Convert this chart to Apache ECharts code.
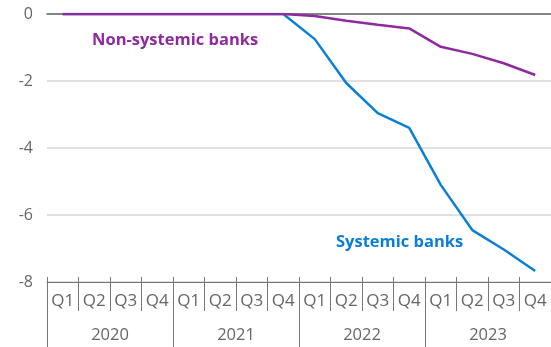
<!DOCTYPE html>
<html>
<head>
<meta charset="utf-8">
<script src="https://cdn.jsdelivr.net/npm/echarts@6/dist/echarts.min.js"></script>
<style>
  html, body { margin: 0; padding: 0; background: #fff; }
  #chart { width: 551px; height: 347px; }
</style>
</head>
<body>
<div id="chart"></div>
<script>
// Data
const quarters = ['Q1', 'Q2', 'Q3', 'Q4', 'Q1', 'Q2', 'Q3', 'Q4',
                  'Q1', 'Q2', 'Q3', 'Q4', 'Q1', 'Q2', 'Q3', 'Q4'];
const years = ['2020', '2021', '2022', '2023'];
const nonSystemic = [0, 0, 0, 0, 0, 0, 0, 0,
                     -0.06, -0.2, -0.32, -0.43, -0.98, -1.19, -1.47, -1.82];
const systemic = [0, 0, 0, 0, 0, 0, 0, 0,
                  -0.75, -2.06, -2.96, -3.4, -5.1, -6.45, -7.03, -7.67];
const yTicks = [0, -2, -4, -6, -8];

const purple = '#8e2a9e';
const blue = '#0a7fd6';
const textGray = '#666';
const axisGray = '#777';
const font = 'Open Sans';

const myChart = echarts.init(document.getElementById('chart'));

const option = {
    backgroundColor: '#fff',
    animation: false,
    grid: { left: 47, right: 0, top: 14, bottom: 65 },
    xAxis: [
        {
            // quarter labels
            type: 'category',
            data: quarters,
            position: 'bottom',
            boundaryGap: true,
            axisLine: { show: true, onZero: false, lineStyle: { color: axisGray, width: 1 } },
            axisTick: { show: true, length: 29, interval: 0, lineStyle: { color: axisGray } },
            axisLabel: { color: textGray, fontSize: 17, fontFamily: font, margin: 11, interval: 0 },
            splitLine: { show: false }
        },
        {
            // year labels
            type: 'category',
            data: years,
            position: 'bottom',
            boundaryGap: true,
            axisLine: { show: false, onZero: false },
            axisTick: { show: true, length: 70, interval: 0, lineStyle: { color: axisGray } },
            axisLabel: { color: textGray, fontSize: 16.5, fontFamily: font, margin: 45 },
            splitLine: { show: false }
        },
        {
            // short ticks poking above the axis line
            type: 'category',
            data: quarters,
            position: 'bottom',
            axisLine: { show: false, onZero: false },
            axisTick: { show: true, inside: true, length: 5, interval: 0, lineStyle: { color: axisGray } },
            axisLabel: { show: false }
        },
        {
            // zero line
            type: 'category',
            data: quarters,
            position: 'top',
            axisLine: { show: true, onZero: false, lineStyle: { color: '#666', width: 1.5 } },
            axisTick: { show: false },
            axisLabel: { show: false }
        }
    ],
    yAxis: {
        type: 'value',
        min: yTicks[yTicks.length - 1],
        max: yTicks[0],
        interval: 2,
        axisLine: { show: false },
        axisTick: { show: false },
        axisLabel: { color: textGray, fontSize: 16, fontFamily: font, margin: 14 },
        splitLine: { show: true, lineStyle: { color: '#d6d6d6', width: 1.5 } }
    },
    series: [
        {
            name: 'Systemic banks',
            type: 'line',
            data: systemic,
            symbol: 'none',
            lineStyle: { color: blue, width: 2.5 },
            z: 3
        },
        {
            name: 'Non-systemic banks',
            type: 'line',
            data: nonSystemic,
            symbol: 'none',
            lineStyle: { color: purple, width: 2.5 },
            z: 4
        }
    ],
    graphic: [
        {
            type: 'text',
            left: 92,
            top: 32,
            style: { text: 'Non-systemic banks', fill: purple, font: 'bold 16.5px "Open Sans"' }
        },
        {
            type: 'text',
            left: 336,
            top: 234,
            style: { text: 'Systemic banks', fill: blue, font: 'bold 16.5px "Open Sans"' }
        }
    ]
};

myChart.setOption(option, true);
</script>
</body>
</html>
